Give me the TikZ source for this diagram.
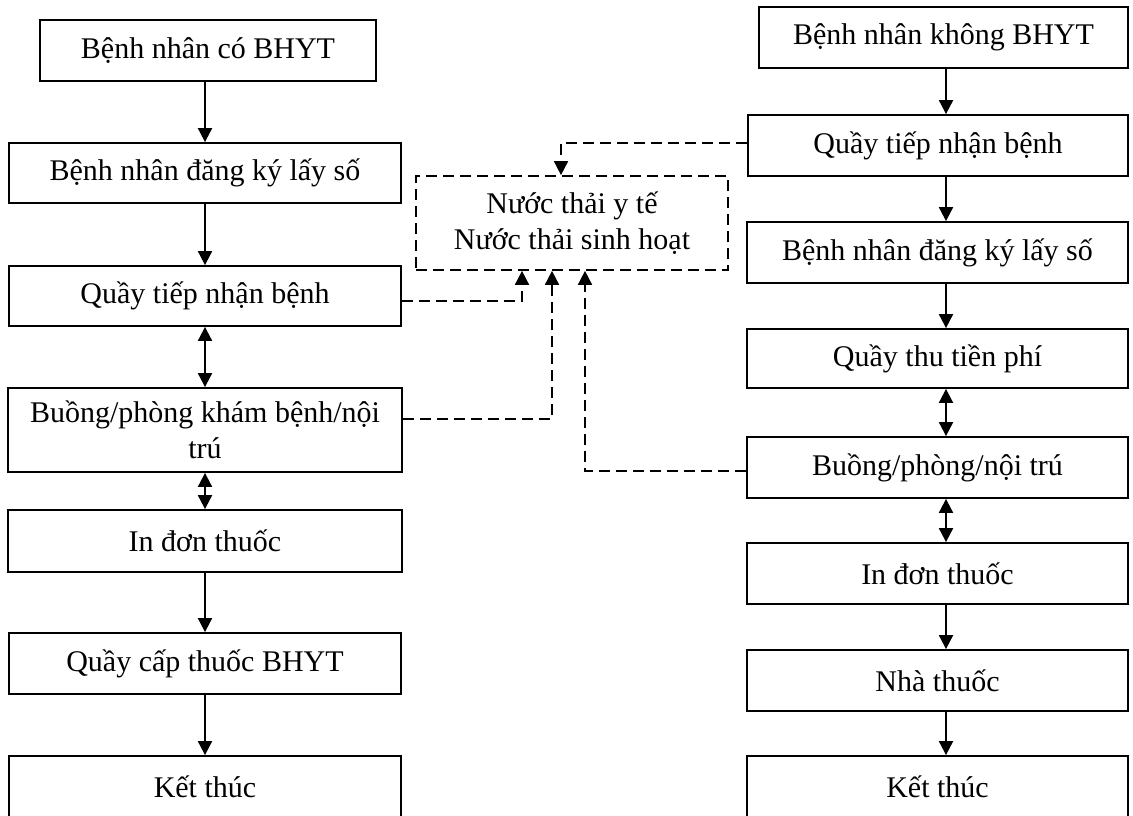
\documentclass[tikz,border=0pt]{standalone}
\usepackage{fontspec}
\setmainfont{Liberation Serif}
\usetikzlibrary{arrows.meta}
\begin{document}
\begin{tikzpicture}[x=1pt,y=-1pt,
  font=\fontsize{30}{36}\selectfont,
  box/.style={draw, line width=1.8pt, inner sep=0pt, align=center},
  wastebox/.style={draw, line width=1.7pt, dash pattern=on 11pt off 6pt, inner sep=0pt, align=center},
  tip/.tip={Triangle[width=14pt,length=14pt]},
  flow/.style={line width=1.9pt, -tip},
  twoway/.style={line width=1.9pt, tip-tip},
  waste/.style={line width=1.7pt, dash pattern=on 11pt off 6pt, -tip}]
\useasboundingbox (0,0) rectangle (1133,815);
\clip (0,0) rectangle (1133,815);
\fill[white] (0,0) rectangle (1133,815);

% patients with health insurance
\node[box, minimum width=336pt, minimum height=61pt] (L1) at (208,50.5) {Bệnh nhân có BHYT};
\node[box, minimum width=392pt, minimum height=60pt] (L2) at (205,173) {Bệnh nhân đăng ký lấy số};
\node[box, minimum width=392pt, minimum height=60pt] (L3) at (205,296) {Quầy tiếp nhận bệnh};
\node[box, minimum width=394pt, minimum height=84pt] (L4) at (205,430) {Buồng/phòng khám bệnh/nội\\trú};
\node[box, minimum width=394pt, minimum height=62pt] (L5) at (205,541) {In đơn thuốc};
\node[box, minimum width=392pt, minimum height=61pt] (L6) at (205,663.5) {Quầy cấp thuốc BHYT};
\node[box, minimum width=392pt, minimum height=62pt] (L7) at (205,787) {Kết thúc};

% patients without health insurance
\node[box, minimum width=369pt, minimum height=61pt] (R1) at (943.5,37.5) {Bệnh nhân không BHYT};
\node[box, minimum width=380pt, minimum height=61pt] (R2) at (938,145.5) {Quầy tiếp nhận bệnh};
\node[box, minimum width=381pt, minimum height=61pt] (R3) at (937.5,252.5) {Bệnh nhân đăng ký lấy số};
\node[box, minimum width=381pt, minimum height=59pt] (R4) at (937.5,358.5) {Quầy thu tiền phí};
\node[box, minimum width=381pt, minimum height=61pt] (R5) at (937.5,467.5) {Buồng/phòng/nội trú};
\node[box, minimum width=381pt, minimum height=61pt] (R6) at (937.5,573.5) {In đơn thuốc};
\node[box, minimum width=381pt, minimum height=61pt] (R7) at (937.5,680.5) {Nhà thuốc};
\node[box, minimum width=381pt, minimum height=62pt] (R8) at (937.5,787) {Kết thúc};

% wastewater
\node[wastebox, minimum width=312pt, minimum height=94pt] (W) at (572,223) {Nước thải y tế\\Nước thải sinh hoạt};

% left flow
\draw[flow] (L1.south -| L2.north) -- (L2.north);
\draw[flow] (L2.south) -- (L3.north);
\draw[twoway] (L3.south) -- (L4.north);
\draw[twoway] (L4.south) -- (L5.north);
\draw[flow] (L5.south) -- (L6.north);
\draw[flow] (L6.south) -- (L7.north);

% right flow
\coordinate (rx) at (946,0);
\draw[flow] (R1.south -| rx) -- (R2.north -| rx);
\draw[flow] (R2.south -| rx) -- (R3.north -| rx);
\draw[flow] (R3.south -| rx) -- (R4.north -| rx);
\draw[twoway] (R4.south -| rx) -- (R5.north -| rx);
\draw[twoway] (R5.south -| rx) -- (R6.north -| rx);
\draw[flow] (R6.south -| rx) -- (R7.north -| rx);
\draw[flow] (R7.south -| rx) -- (R8.north -| rx);

% wastewater sources
\coordinate (wa) at (561,0);
\coordinate (wb) at (522,0);
\coordinate (wc) at (552,0);
\coordinate (wd) at (585,0);
\draw[waste] ([yshift=2.5pt]R2.west) -| (W.north -| wa);
\draw[waste] ([yshift=-5pt]L3.east) -| (W.south -| wb);
\draw[waste] ([yshift=11pt]L4.east) -| (W.south -| wc);
\draw[waste] ([yshift=-3.5pt]R5.west) -| (W.south -| wd);
\end{tikzpicture}
\end{document}
